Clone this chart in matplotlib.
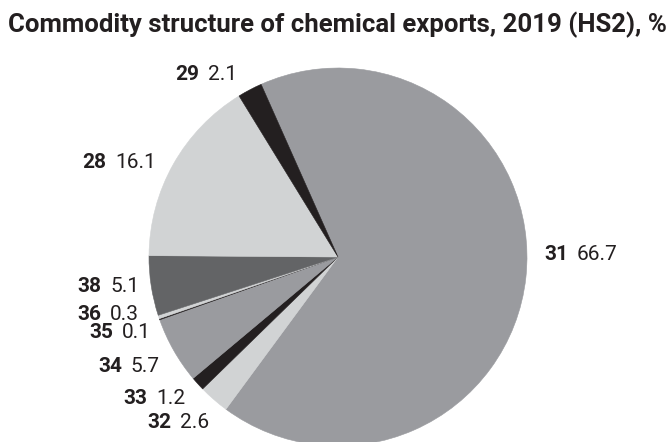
import matplotlib
matplotlib.use("Agg")
import matplotlib.pyplot as plt

plt.rcParams["font.family"] = ["Roboto", "DejaVu Sans"]

title = "Commodity structure of chemical exports, 2019 (HS2), %"
codes = ["31", "32", "33", "34", "35", "36", "38", "28", "29"]
shares = [66.7, 2.6, 1.2, 5.7, 0.1, 0.3, 5.1, 16.1, 2.1]
value_labels = ["66.7", "2.6", "1.2", "5.7", "0.1", "0.3", "5.1", "16.1", "2.1"]

colors = ["#9a9b9f", "#d1d3d4", "#231f20", "#9a9b9f", "#231f20",
          "#d1d3d4", "#636466", "#d1d3d4", "#231f20"]

# label layout: left x, vertical centre y (pixels from top)
label_pos = {"31": (544, 255), "32": (147, 422), "33": (123, 398),
             "34": (98, 367), "35": (89, 332), "36": (77, 315),
             "38": (77, 287), "28": (82, 162), "29": (175, 75)}

W, H = 671, 442
fig = plt.figure(figsize=(W / 100, H / 100), dpi=100)
ax = fig.add_axes([0, 0, 1, 1])
wedges, _ = ax.pie(shares, colors=colors, startangle=114, counterclock=False,
                   center=(338, H - 257), radius=189,
                   wedgeprops=dict(linewidth=0.4), frame=True)
for w, c in zip(wedges, colors):
    w.set_edgecolor(c)
ax.set_xlim(0, W)
ax.set_ylim(0, H)
ax.set_aspect("equal")
ax.axis("off")

for code, val in zip(codes, value_labels):
    x, y = label_pos[code]
    t = ax.text(x, H - y, code, fontweight="bold", fontsize=15,
                color="#231f20", ha="left", va="center")
    ax.annotate(val, xy=(1, 0), xycoords=t, xytext=(6.5, 0),
                textcoords="offset points", ha="left", va="bottom",
                fontsize=15, color="#231f20")

fig.text(8 / W, 1 - 25 / H, title, fontweight="bold", fontsize=18.5,
         color="#231f20", ha="left", va="center")

fig.savefig("out.png", dpi=100)
